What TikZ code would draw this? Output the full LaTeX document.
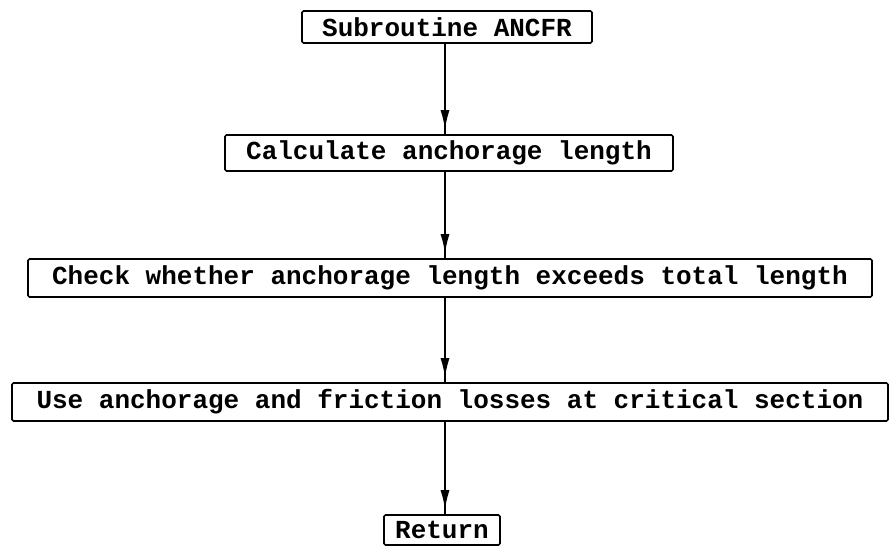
\documentclass[tikz,border=0pt]{standalone}
\usepackage{fontspec}
\setmonofont{Liberation Mono}
\usetikzlibrary{arrows.meta}

\tikzset{
  stepbox/.style={draw=black, line width=1.6pt, rounded corners=1.5pt,
    inner xsep=4pt, inner ysep=0pt, align=center, text=black,
    font=\ttfamily\bfseries\fontsize{26}{30}\selectfont},
  flowline/.style={draw=black, line width=2.2pt},
  flowarrow/.style={draw=black, line width=2.2pt,
    -{Latex[length=20pt,width=9pt]}, shorten >=4pt}
}

\begin{document}
\begin{tikzpicture}[x=1pt, y=-1pt]
  \useasboundingbox (0,0) rectangle (890,547);

  % flowchart boxes
  \node[stepbox, minimum width=290pt, minimum height=32pt] (start) at (447,27) {Subroutine ANCFR};
  \node[stepbox, minimum width=448pt, minimum height=36pt] (calc) at (449,153) {Calculate anchorage length};
  \node[stepbox, minimum width=844pt, minimum height=38pt] (check) at (450,278) {Check whether anchorage length exceeds total length};
  \node[stepbox, minimum width=876pt, minimum height=38pt] (use) at (450,402) {Use anchorage and friction losses at critical section};
  \node[stepbox, minimum width=116pt, minimum height=30pt] (ret) at (442,530) {Return};

  % connectors: the shaft runs to the next box, the head stops just short of it
  \foreach \a/\b in {start/calc, calc/check, check/use, use/ret} {
    \draw[flowline] (\a.south -| 445,0) -- (\b.north -| 445,0);
    \draw[flowarrow] (\a.south -| 445,0) -- (\b.north -| 445,0);
  }
\end{tikzpicture}
\end{document}
